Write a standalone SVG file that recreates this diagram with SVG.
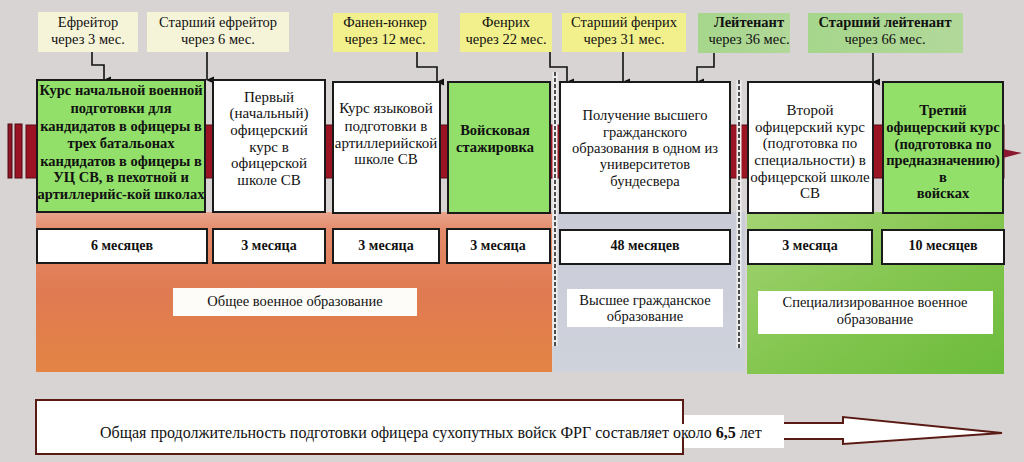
<svg xmlns="http://www.w3.org/2000/svg" width="1024" height="462" viewBox="0 0 1024 462" font-family="'Liberation Serif', 'DejaVu Serif', serif">
<defs>
<marker id="ah" markerUnits="userSpaceOnUse" markerWidth="8" markerHeight="8" refX="4" refY="7" orient="auto-start-reverse" viewBox="0 0 8 8">
<path d="M0.5,0 L7.5,0 L4,8 Z" fill="#111"/>
</marker>
<linearGradient id="gOrange" x1="0" y1="0" x2="0" y2="1">
<stop offset="0" stop-color="#e9a48c"/>
<stop offset="0.12" stop-color="#e48a6a"/>
<stop offset="0.5" stop-color="#e07a52"/>
<stop offset="1" stop-color="#e38444"/>
</linearGradient>
<linearGradient id="gGreen" x1="0" y1="0" x2="1" y2="1">
<stop offset="0" stop-color="#a4d474"/>
<stop offset="0.5" stop-color="#84c650"/>
<stop offset="1" stop-color="#6cbc3c"/>
</linearGradient>
<linearGradient id="gBlue" x1="0" y1="0" x2="0" y2="1">
<stop offset="0" stop-color="#c9cbd6"/>
<stop offset="1" stop-color="#cfd3dc"/>
</linearGradient>
<linearGradient id="gLbl" x1="0" y1="0" x2="1" y2="0">
<stop offset="0" stop-color="#a6d68c"/>
<stop offset="1" stop-color="#b2d89a"/>
</linearGradient>
</defs>
<style>
text{font-family:'Liberation Serif','DejaVu Serif',serif;fill:#111;text-anchor:middle}
.t{font-size:14.5px}
.tb{font-size:14.5px;font-weight:bold}
.m{font-size:15px}
.d{font-size:14px;font-weight:bold}
.bt{font-size:16px;text-anchor:start}
.box{stroke:#1a1a1a;stroke-width:2}
.white{fill:#ffffff}
.green{fill:#92e06a}
.pale{fill:#f5f4d9}
.yel{fill:#f2f08c}
.lg{fill:url(#gLbl)}
.conn{fill:none;stroke:#111;stroke-width:1.6;marker-end:url(#ah)}
.dash{stroke:#222;stroke-width:1.6;stroke-dasharray:4 2}
.dashbg{stroke:#eeeeee;stroke-width:5}
</style>
<rect x="0" y="0" width="1024" height="462" fill="#d8d4d4"/>

<g id="regions">
<rect x="36" y="212" width="516" height="160" fill="url(#gOrange)"/>
<rect x="553" y="212" width="192" height="160" fill="url(#gBlue)"/>
<rect x="747" y="212" width="257" height="162" fill="url(#gGreen)"/>
</g>

<g id="timeline">
<rect x="8" y="124" width="4" height="54" fill="#8c1424" stroke="#4a0a12" stroke-width="1"/>
<rect x="15" y="124" width="7" height="54" fill="#9a1424" stroke="#4a0a12" stroke-width="1"/>
<rect x="26" y="125" width="978" height="53" fill="#9b1424" stroke="#5a0a14" stroke-width="1"/>
<path d="M1003,149 L1022,153 L1003,158 Z" fill="#8a1830"/>
</g>

<g id="dividers">
<line x1="555" y1="72" x2="555" y2="346" class="dashbg"/>
<line x1="555" y1="72" x2="555" y2="346" class="dash"/>
<line x1="739" y1="80" x2="739" y2="348" class="dashbg"/>
<line x1="739" y1="80" x2="739" y2="348" class="dash"/>
</g>

<g id="rank-efreitor">
<rect x="38" y="12" width="100" height="40" class="pale"/>
<text class="t" x="88" y="27">Ефрейтор</text>
<text class="t" x="88" y="44">через 3 мес.</text>
</g>
<g id="rank-st-efreitor">
<rect x="147" y="12" width="142" height="40" class="pale"/>
<text class="t" x="218" y="27">Старший ефрейтор</text>
<text class="t" x="218" y="44">через 6 мес.</text>
</g>
<g id="rank-fahnenjunker">
<rect x="333" y="13" width="105" height="39" class="yel"/>
<text class="t" x="385" y="27">Фанен-юнкер</text>
<text class="t" x="385" y="44">через 12 мес.</text>
</g>
<g id="rank-faehnrich">
<rect x="460" y="13" width="92" height="39" class="yel"/>
<text class="t" x="506" y="27">Фенрих</text>
<text class="t" x="506" y="44">через 22 мес.</text>
</g>
<g id="rank-st-faehnrich">
<rect x="562" y="13" width="124" height="39" class="yel"/>
<text class="t" x="624" y="27">Старший фенрих</text>
<text class="t" x="624" y="44">через 31 мес.</text>
</g>
<g id="rank-leutnant">
<rect x="698" y="13" width="92" height="40" class="lg"/>
<text class="tb" x="749" y="27">Лейтенант</text>
<text class="t" x="749" y="44">через 36 мес.</text>
</g>
<g id="rank-oberleutnant">
<rect x="808" y="13" width="155" height="40" class="lg"/>
<text class="tb" x="885" y="27">Старший лейтенант</text>
<text class="t" x="885" y="44">через 66 мес.</text>
</g>

<g id="connectors">
<path class="conn" d="M92,52 V65 H104 V80"/>
<path class="conn" d="M207,52 V80"/>
<path class="conn" d="M417,52 V67 H437 V82"/>
<path class="conn" d="M550,52 V67 H567 V82"/>
<path class="conn" d="M623,52 V82"/>
<path class="conn" d="M714,53 V67 H697 V82"/>
<path class="conn" d="M873,53 V82"/>
</g>

<g id="course-basic">
<rect x="37" y="80" width="168" height="132" class="box green"/>
<text class="tb" x="121" y="95">Курс начальной военной</text>
<text class="tb" x="121" y="113">подготовки для</text>
<text class="tb" x="121" y="131">кандидатов в офицеры в</text>
<text class="tb" x="121" y="148">трех батальонах</text>
<text class="tb" x="121" y="166">кандидатов в офицеры в</text>
<text class="tb" x="121" y="182">УЦ СВ, в пехотной и</text>
<text class="tb" x="121" y="199">артиллерийс-кой школах</text>
</g>
<g id="course-first">
<rect x="213" y="80" width="112" height="132" class="box white"/>
<text class="m" x="269" y="102">Первый</text>
<text class="m" x="269" y="118">(начальный)</text>
<text class="m" x="269" y="135">офицерский</text>
<text class="m" x="269" y="152">курс в</text>
<text class="m" x="269" y="168">офицерской</text>
<text class="m" x="269" y="185">школе СВ</text>
</g>
<g id="course-language">
<rect x="333" y="82" width="107" height="131" class="box white"/>
<text class="m" x="386" y="113">Курс языковой</text>
<text class="m" x="386" y="131">подготовки в</text>
<text class="m" x="386" y="148">артиллерийской</text>
<text class="m" x="386" y="164">школе СВ</text>
</g>
<g id="internship">
<rect x="448" y="82" width="102" height="131" class="box green"/>
<text class="tb" x="495" y="135">Войсковая</text>
<text class="tb" x="495" y="152">стажировка</text>
</g>
<g id="university">
<rect x="560" y="82" width="170" height="131" class="box white"/>
<text class="t" x="645" y="120">Получение высшего</text>
<text class="t" x="645" y="137">гражданского</text>
<text class="t" x="645" y="153">образования в одном из</text>
<text class="t" x="645" y="169">университетов</text>
<text class="t" x="645" y="186">бундесвера</text>
</g>
<g id="course-second">
<rect x="748" y="82" width="125" height="131" class="box white"/>
<text class="m" x="810" y="115">Второй</text>
<text class="m" x="810" y="132">офицерский курс</text>
<text class="m" x="810" y="148">(подготовка по</text>
<text class="m" x="810" y="165">специальности) в</text>
<text class="m" x="810" y="182">офицерской школе</text>
<text class="m" x="810" y="198">СВ</text>
</g>
<g id="course-third">
<rect x="883" y="82" width="120" height="131" class="box green"/>
<text class="tb" x="943" y="115">Третий</text>
<text class="tb" x="943" y="132">офицерский курс</text>
<text class="tb" x="943" y="149">(подготовка по</text>
<text class="tb" x="943" y="165">предназначению)</text>
<text class="tb" x="943" y="182">в</text>
<text class="tb" x="943" y="198">войсках</text>
</g>

<g id="durations">
<rect x="37" y="229" width="170" height="34" class="box white"/>
<text class="d" x="122" y="250">6 месяцев</text>
<rect x="213" y="229" width="112" height="34" class="box white"/>
<text class="d" x="269" y="250">3 месяца</text>
<rect x="333" y="229" width="106" height="34" class="box white"/>
<text class="d" x="386" y="250">3 месяца</text>
<rect x="447" y="229" width="103" height="34" class="box white"/>
<text class="d" x="498" y="250">3 месяца</text>
<rect x="560" y="230" width="170" height="34" class="box white"/>
<text class="d" x="645" y="250">48 месяцев</text>
<rect x="748" y="230" width="124" height="34" class="box white"/>
<text class="d" x="810" y="250">3 месяца</text>
<rect x="882" y="230" width="122" height="34" class="box white"/>
<text class="d" x="943" y="250">10 месяцев</text>
</g>

<g id="categories">
<rect x="173" y="288" width="244" height="28" fill="#fdfcf8"/>
<text class="t" x="295" y="306">Общее военное образование</text>
<rect x="567" y="289" width="156" height="38" fill="#ffffff"/>
<text class="t" x="645" y="305">Высшее гражданское</text>
<text class="t" x="645" y="321">образование</text>
<rect x="758" y="291" width="235" height="43" fill="#ffffff"/>
<text class="t" x="875" y="307">Специализированное военное</text>
<text class="t" x="875" y="324">образование</text>
</g>

<g id="total">
<path d="M36,400 H683 V423 H843 V417 L1002,433 L843,444 V439 H683 V454 H36 Z" fill="#ffffff" stroke="#5a1a14" stroke-width="2"/>
<rect x="684" y="415" width="100" height="33" fill="#ffffff"/>
<text class="bt" x="100" y="438">Общая продолжительность подготовки офицера сухопутных войск  ФРГ составляет около <tspan font-weight="bold">6,5</tspan> лет</text>
</g>
</svg>
